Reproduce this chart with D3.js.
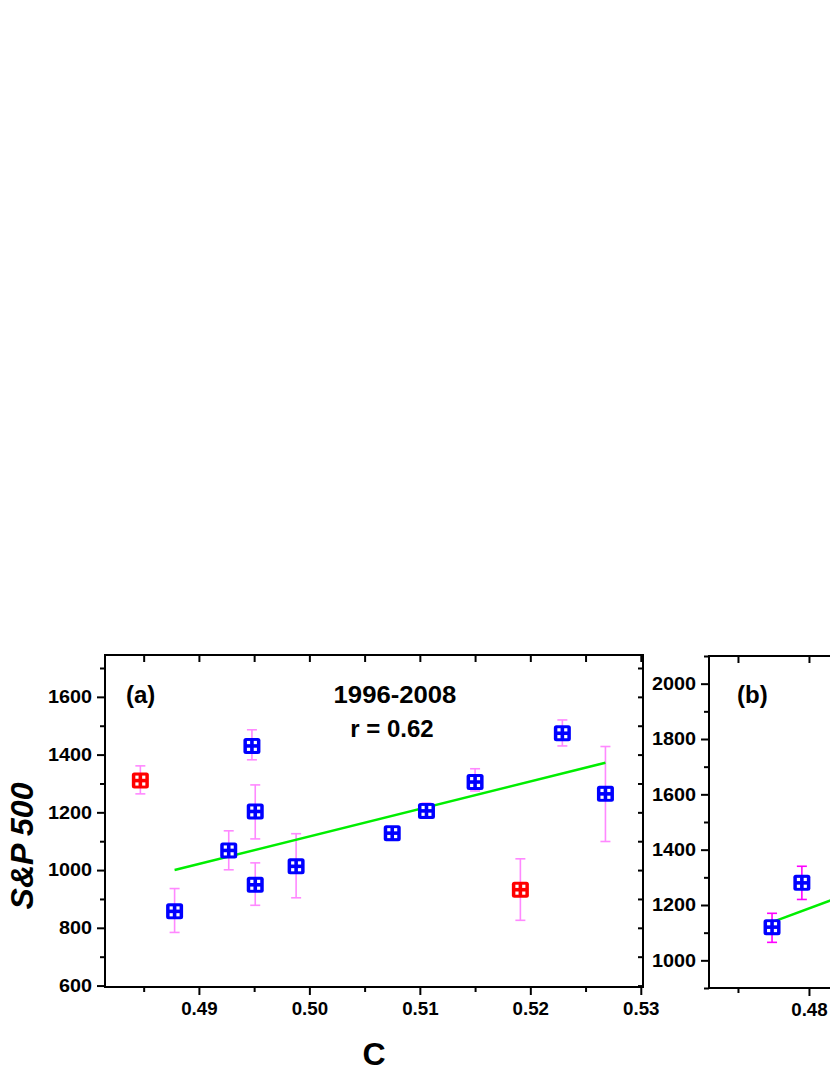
<!DOCTYPE html>
<html>
<head>
<meta charset="utf-8">
<script src="https://cdnjs.cloudflare.com/ajax/libs/d3/7.8.5/d3.min.js"></script>
<style>
  body { margin: 0; background: #fff; overflow: hidden; }
  svg text { font-family: "Liberation Sans", Arial, sans-serif; font-weight: bold; }
</style>
</head>
<body>
<div id="chart"></div>
<script>
// panel (a) : 1996-2008
var cA     = [0.4847, 0.4878, 0.4927, 0.4948, 0.4951, 0.4951, 0.4988, 0.5075, 0.5106, 0.5150, 0.5229, 0.5268, 0.5191];
var spA    = [1310, 857, 1068, 1430, 1203, 949, 1013, 1128, 1205, 1305, 1474, 1264, 932];
var errHiA = [1361, 936, 1136, 1486, 1295, 1025, 1126, 1140, 1232, 1351, 1520, 1428, 1039];
var errLoA = [1264, 784, 1001, 1382, 1108, 878, 904, 1115, 1181, 1274, 1430, 1099, 826];
var groupA = ["out", "in", "in", "in", "in", "in", "in", "in", "in", "in", "in", "in", "out"];
var fitCA  = [0.4878, 0.5268];
var fitSpA = [1000, 1372];

var xTicksA = [0.49, 0.50, 0.51, 0.52, 0.53];
var xMinorA = [0.485, 0.495, 0.505, 0.515, 0.525];
var yTicksA = [600, 800, 1000, 1200, 1400, 1600];
var yMinorA = [700, 900, 1100, 1300, 1500, 1700];

// panel (b) : only its left part is inside the picture
var cB     = [0.4774, 0.4795];
var spB    = [1120, 1280];
var errHiB = [1170, 1340];
var errLoB = [1065, 1220];
var fitCB  = [0.4774, 0.4830];
var fitSpB = [1138, 1245];

var xTicksB = [0.48];
var xMinorB = [0.475];
var yTicksB = [1000, 1200, 1400, 1600, 1800, 2000];
var yMinorB = [900, 1100, 1300, 1500, 1700, 1900, 2100];

var width = 830, height = 1075;

var svg = d3.select("#chart").append("svg")
    .attr("width", width)
    .attr("height", height);

var boxA = {left: 105, right: 643, top: 655, bottom: 987};
var boxB = {left: 709, right: 1250, top: 656, bottom: 988};

var xA = d3.scaleLinear().domain([0.4815, 0.5302]).range([boxA.left, boxA.right]);
var yA = d3.scaleLinear().domain([595, 1745]).range([boxA.bottom, boxA.top]);
var xB = d3.scaleLinear().domain([0.47296, 0.51106]).range([boxB.left, boxB.right]);
var yB = d3.scaleLinear().domain([900, 2100]).range([boxB.bottom, boxB.top]);

function widen(sel, k) {
  // the original labels are drawn a bit wider than Liberation Sans
  sel.selectAll("text").each(function() {
    var w = this.getComputedTextLength();
    d3.select(this).attr("textLength", w * k).attr("lengthAdjust", "spacingAndGlyphs");
  });
}

function styleAxis(g) {
  g.select(".domain").remove();
  g.selectAll("line").attr("stroke", "#000").attr("stroke-width", 2);
  g.selectAll("text").attr("fill", "#000").style("font-size", "18px");
}

function drawPanel(o) {
  var box = o.box, x = o.x, y = o.y;
  var g = svg.append("g");

  // bottom axis, outward ticks
  g.append("g").attr("transform", "translate(0," + box.bottom + ")")
      .call(d3.axisBottom(x).tickValues(o.xTicks).tickFormat(d3.format(".2f"))
        .tickSizeInner(8).tickSizeOuter(0).tickPadding(7))
      .call(styleAxis).call(widen, 1.04);
  g.append("g").attr("transform", "translate(0," + box.bottom + ")")
      .call(d3.axisBottom(x).tickValues(o.xMinor).tickFormat("").tickSizeInner(5).tickSizeOuter(0))
      .call(styleAxis);

  // top axis, inward ticks
  g.append("g").attr("transform", "translate(0," + box.top + ")")
      .call(d3.axisBottom(x).tickValues(o.xTicks.concat(o.xMinor)).tickFormat("").tickSizeInner(7).tickSizeOuter(0))
      .call(styleAxis);

  // left axis, outward ticks
  g.append("g").attr("transform", "translate(" + box.left + ",0)")
      .call(d3.axisLeft(y).tickValues(o.yTicks).tickFormat(d3.format("d"))
        .tickSizeInner(8).tickSizeOuter(0).tickPadding(5))
      .call(styleAxis).call(widen, 1.1);
  g.append("g").attr("transform", "translate(" + box.left + ",0)")
      .call(d3.axisLeft(y).tickValues(o.yMinor).tickFormat("").tickSizeInner(5).tickSizeOuter(0))
      .call(styleAxis);

  // right axis, inward ticks
  g.append("g").attr("transform", "translate(" + box.right + ",0)")
      .call(d3.axisLeft(y).tickValues(o.yTicks.concat(o.yMinor)).tickFormat("").tickSizeInner(5).tickSizeOuter(0))
      .call(styleAxis);

  g.append("rect")
      .attr("x", box.left).attr("y", box.top)
      .attr("width", box.right - box.left).attr("height", box.bottom - box.top)
      .attr("fill", "none").attr("stroke", "#000").attr("stroke-width", 2);

  var pts = o.c.map(function(c, i) {
    return {c: c, sp: o.sp[i], hi: o.hi[i], lo: o.lo[i], grp: o.grp ? o.grp[i] : "in"};
  });

  // error bars
  var eb = g.append("g").attr("stroke", o.errColor).attr("stroke-width", 1.6)
      .selectAll("g").data(pts).enter().append("g");
  eb.append("line")
      .attr("x1", function(d) { return x(d.c); }).attr("x2", function(d) { return x(d.c); })
      .attr("y1", function(d) { return y(d.hi); }).attr("y2", function(d) { return y(d.lo); });
  eb.append("line")
      .attr("x1", function(d) { return x(d.c) - 5; }).attr("x2", function(d) { return x(d.c) + 5; })
      .attr("y1", function(d) { return y(d.hi); }).attr("y2", function(d) { return y(d.hi); });
  eb.append("line")
      .attr("x1", function(d) { return x(d.c) - 5; }).attr("x2", function(d) { return x(d.c) + 5; })
      .attr("y1", function(d) { return y(d.lo); }).attr("y2", function(d) { return y(d.lo); });

  // linear fit
  var line = d3.line().x(function(d) { return x(d[0]); }).y(function(d) { return y(d[1]); });
  g.append("path")
      .datum(o.fitC.map(function(c, i) { return [c, o.fitSp[i]]; }))
      .attr("d", line)
      .attr("fill", "none").attr("stroke", "#00ee00").attr("stroke-width", 2.5);

  // square markers with four white dots
  var mk = g.append("g").selectAll("g").data(pts).enter().append("g")
      .attr("transform", function(d) { return "translate(" + x(d.c) + "," + y(d.sp) + ")"; });
  mk.append("rect")
      .attr("x", -8.5).attr("y", -8).attr("width", 17).attr("height", 16).attr("rx", 2.5)
      .attr("fill", function(d) { return d.grp == "out" ? "#ff0000" : "#0000ff"; });
  [[-5, -5], [1.8, -5], [-5, 1.8], [1.8, 1.8]].forEach(function(p) {
    mk.append("rect").attr("x", p[0]).attr("y", p[1]).attr("width", 3.2).attr("height", 3.2).attr("fill", "#fff");
  });

  g.append("text").attr("x", box.left + o.tagDx).attr("y", 703)
      .style("font-size", "24px").text(o.tag);
}

drawPanel({box: boxA, x: xA, y: yA, xTicks: xTicksA, xMinor: xMinorA, yTicks: yTicksA, yMinor: yMinorA,
  c: cA, sp: spA, hi: errHiA, lo: errLoA, grp: groupA, fitC: fitCA, fitSp: fitSpA,
  errColor: "#ff88ff", tag: "(a)", tagDx: 21});

drawPanel({box: boxB, x: xB, y: yB, xTicks: xTicksB, xMinor: xMinorB, yTicks: yTicksB, yMinor: yMinorB,
  c: cB, sp: spB, hi: errHiB, lo: errLoB, fitC: fitCB, fitSp: fitSpB,
  errColor: "#ff00ff", tag: "(b)", tagDx: 28});

// annotations of panel (a)
svg.append("text").attr("x", 395).attr("y", 703).attr("text-anchor", "middle")
    .style("font-size", "24px").text("1996-2008").call(function(t) {
      t.attr("textLength", t.node().getComputedTextLength() * 1.07).attr("lengthAdjust", "spacingAndGlyphs");
    });
svg.append("text").attr("x", 392).attr("y", 737).attr("text-anchor", "middle")
    .style("font-size", "24px").text("r = 0.62");

// axis titles
svg.append("text").attr("x", 374).attr("y", 1065).attr("text-anchor", "middle")
    .style("font-size", "32px").text("C");
svg.append("text")
    .attr("transform", "translate(33,846) rotate(-90)")
    .attr("text-anchor", "middle")
    .style("font-size", "32px").style("font-style", "italic")
    .text("S&P 500");
</script>
</body>
</html>
